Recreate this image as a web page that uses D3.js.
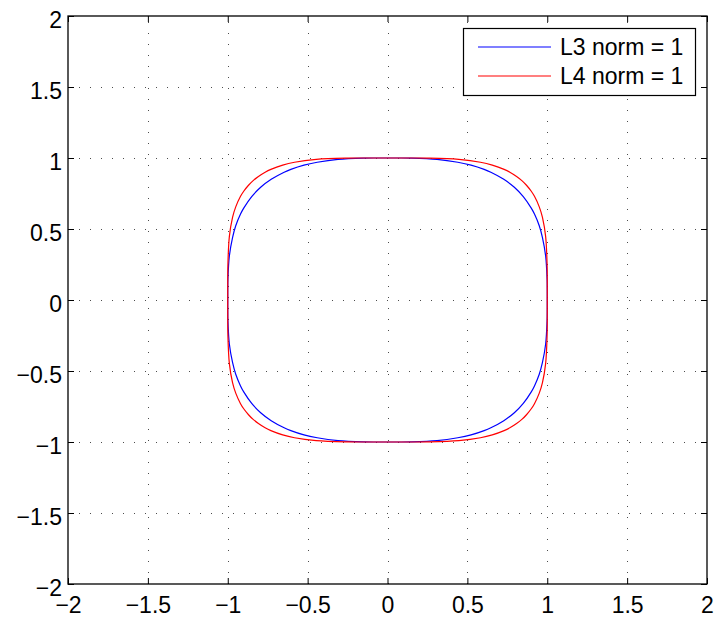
<!DOCTYPE html>
<html>
<head>
<meta charset="utf-8">
<script src="https://cdn.jsdelivr.net/npm/d3@7"></script>
<style>
  body { margin: 0; background: #fff; }
  svg { display: block; font-family: "Liberation Sans", Arial, sans-serif; }
</style>
</head>
<body>
<svg id="chart" width="714" height="620"></svg>
<script>
// --------------------
//  data
// --------------------
const xTicks = [-2, -1.5, -1, -0.5, 0, 0.5, 1, 1.5, 2];
const yTicks = [-2, -1.5, -1, -0.5, 0, 0.5, 1, 1.5, 2];
const seriesNames = ["L3 norm = 1", "L4 norm = 1"];
const seriesColors = ["#0000ff", "#ff0000"];

// first quadrant points, (1,0) -> (0,1)
const l3Quadrant = [
    [1, 0], [0.9999, 0.067], [0.999, 0.144], [0.99, 0.31], [0.97, 0.44],
    [0.95, 0.523], [0.92, 0.605], [0.9, 0.647], [0.85, 0.728], [0.794, 0.794],
    [0.728, 0.85], [0.647, 0.9], [0.605, 0.92], [0.523, 0.95], [0.44, 0.97],
    [0.31, 0.99], [0.144, 0.999], [0.067, 0.9999]
];
const l4Quadrant = [
    [1, 0], [0.9999, 0.141], [0.999, 0.251], [0.99, 0.446], [0.97, 0.582],
    [0.95, 0.656], [0.92, 0.73], [0.9, 0.766], [0.87, 0.808], [0.841, 0.841],
    [0.808, 0.87], [0.766, 0.9], [0.73, 0.92], [0.656, 0.95], [0.582, 0.97],
    [0.446, 0.99], [0.251, 0.999], [0.141, 0.9999]
];

// --------------------
//  helpers
// --------------------
// builds the closed curve from one quadrant by mirroring across both axes
function fullLoop(q) {
    const q2 = q.map(d => [-d[1], d[0]]);
    const q3 = q.map(d => [-d[0], -d[1]]);
    const q4 = q.map(d => [d[1], -d[0]]);
    return q.concat(q2, q3, q4);
}

function fmt(v) {
    return (v < 0 ? "\u2212" : "") + String(Math.abs(v));
}

// --------------------
//  chart
// --------------------
const plotL = 68, plotR = 707, plotT = 16, plotB = 584;
const fontSize = 23;
const svg = d3.select("#chart");

const x = d3.scaleLinear().domain([-2, 2]).range([plotL, plotR]);
const y = d3.scaleLinear().domain([-2, 2]).range([plotB, plotT]);

// grid
const grid = svg.append("g")
    .attr("stroke", "#000")
    .attr("stroke-width", 1)
    .attr("stroke-dasharray", "1,10");
grid.selectAll("line.gx")
    .data(xTicks.slice(1, -1))
    .join("line")
    .attr("class", "gx")
    .attr("x1", d => Math.round(x(d)) + 0.5).attr("x2", d => Math.round(x(d)) + 0.5)
    .attr("y1", plotB).attr("y2", plotT)
    .attr("stroke-opacity", 0.7);
grid.selectAll("line.gy")
    .data(yTicks.slice(1, -1))
    .join("line")
    .attr("class", "gy")
    .attr("y1", d => Math.round(y(d)) + 0.5).attr("y2", d => Math.round(y(d)) + 0.5)
    .attr("x1", plotL).attr("x2", plotR)
    .attr("stroke-opacity", 0.7);

// curves
const line = d3.line()
    .x(d => x(d[0]))
    .y(d => y(d[1]))
    .curve(d3.curveCatmullRomClosed.alpha(0.5));

const loops = [fullLoop(l3Quadrant), fullLoop(l4Quadrant)];
svg.append("g").selectAll("path")
    .data(loops)
    .join("path")
    .attr("d", line)
    .attr("fill", "none")
    .attr("stroke", (d, i) => seriesColors[i])
    .attr("stroke-width", 1.2);

// axes (ticks inward, mirrored on top/right)
const tickLen = 6;
const axBottom = d3.axisBottom(x).tickValues(xTicks).tickSize(-tickLen).tickFormat(fmt).tickPadding(13);
const axLeft = d3.axisLeft(y).tickValues(yTicks).tickSize(-tickLen).tickFormat(fmt).tickPadding(6);
const axTop = d3.axisTop(x).tickValues(xTicks).tickSize(-tickLen).tickFormat("");
const axRight = d3.axisRight(y).tickValues(yTicks).tickSize(-tickLen).tickFormat("");

function styleAxis(g) {
    g.select(".domain").remove();
    g.selectAll("line").attr("stroke", "#000");
    g.selectAll("text").attr("font-size", fontSize).attr("fill", "#000")
        .attr("font-family", "'Liberation Sans', Arial, sans-serif");
}

svg.append("g").attr("transform", `translate(0,${plotB})`).call(axBottom).call(styleAxis);
svg.append("g").attr("transform", `translate(${plotL},0)`).call(axLeft).call(styleAxis)
    .selectAll("text").attr("dy", "0.5em");
svg.append("g").attr("transform", `translate(0,${plotT})`).call(axTop).call(styleAxis);
svg.append("g").attr("transform", `translate(${plotR},0)`).call(axRight).call(styleAxis);

// frame
svg.append("rect")
    .attr("x", plotL).attr("y", plotT)
    .attr("width", plotR - plotL).attr("height", plotB - plotT)
    .attr("fill", "none")
    .attr("stroke", "#000")
    .attr("stroke-width", 1.3);

// legend
const legend = svg.append("g");
legend.append("rect")
    .attr("x", 463.5).attr("y", 28.5)
    .attr("width", 232).attr("height", 67)
    .attr("fill", "#fff")
    .attr("stroke", "#000")
    .attr("stroke-width", 1.2);
const items = legend.selectAll("g.item")
    .data(seriesNames)
    .join("g")
    .attr("class", "item")
    .attr("transform", (d, i) => `translate(0,${47 + i * 29})`);
items.append("line")
    .attr("x1", 478).attr("x2", 551)
    .attr("stroke", (d, i) => seriesColors[i])
    .attr("stroke-width", 1.2);
items.append("text")
    .attr("x", 560)
    .attr("dy", "0.36em")
    .attr("font-size", fontSize)
    .attr("fill", "#000")
    .text(d => d);
</script>
</body>
</html>
